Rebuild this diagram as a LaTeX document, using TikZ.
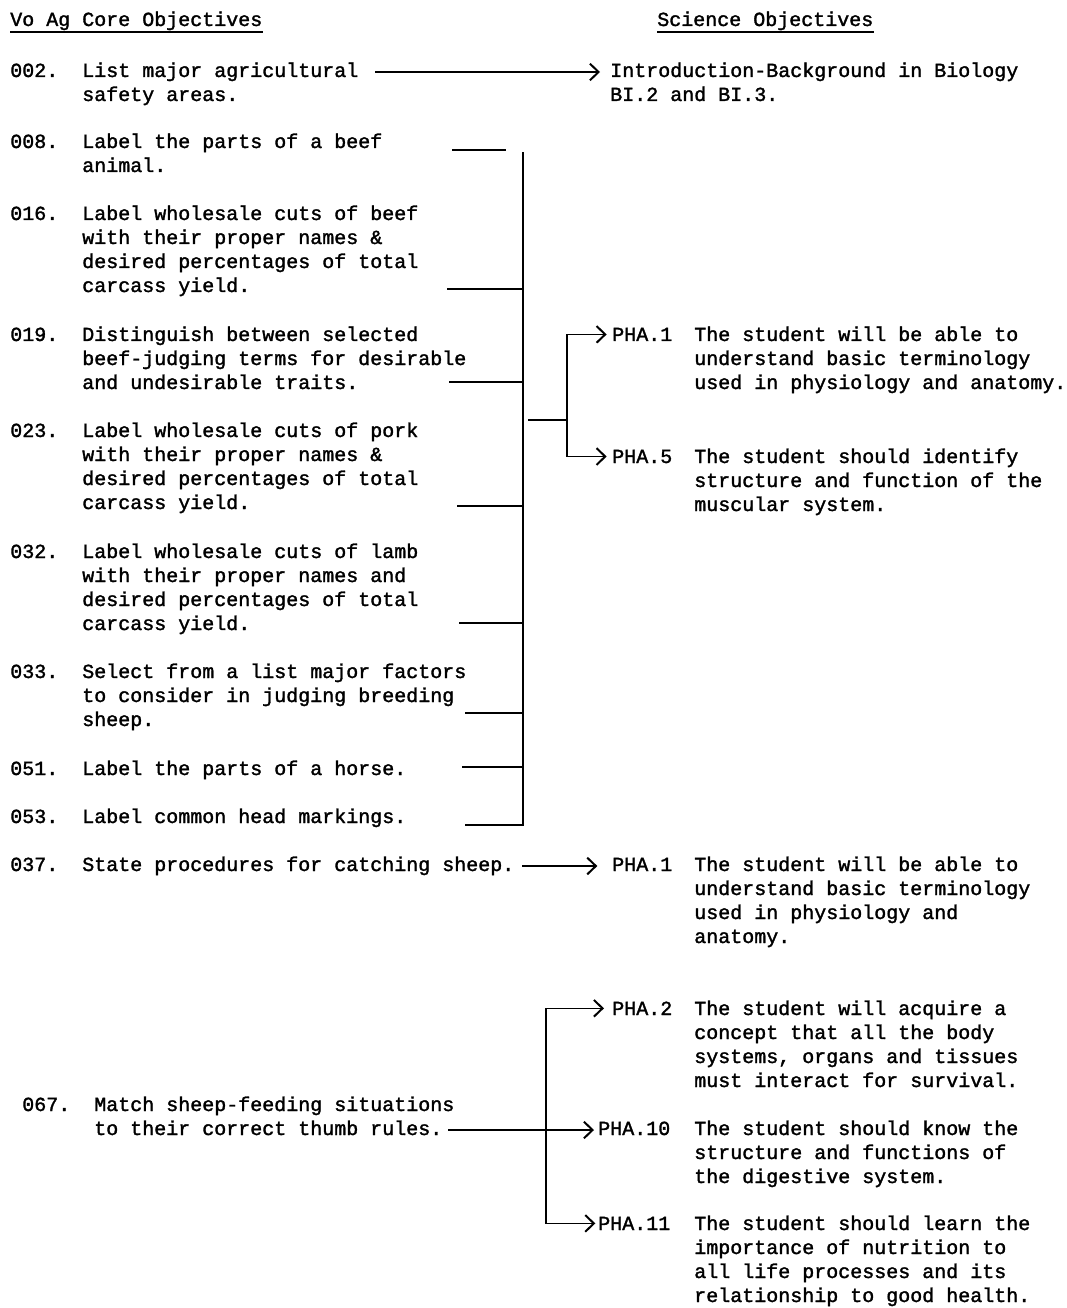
\documentclass[tikz,border=0pt]{standalone}
\usepackage{fontspec}
\setmainfont{Liberation Mono}[BoldFont={Liberation Mono},BoldFeatures={FakeBold=1.6}]
\usetikzlibrary{arrows.meta}
% several lines, anchored at the baseline of the first one
\newcommand\mlines[1]{\begin{tabular}[t]{@{}l@{}}#1\end{tabular}}
\begin{document}
\begin{tikzpicture}[x=0.75pt,y=-0.75pt,
  txt/.style={anchor=base west,inner sep=0pt,
              font=\fontsize{15}{18}\selectfont\bfseries},
  link/.style={line width=1.2pt},
  tip/.style={link,-{Straight Barb[length=6.5pt,width=12.5pt,line width=1.5pt]}},
  rail/.style={line width=1.8pt,line join=miter},
  uline/.style={line width=0.9pt}
]
\useasboundingbox (0,0) rectangle (1066,1308);

% column headings
\node[txt] (hleft)  at (10,26)  {Vo Ag Core Objectives};
\node[txt] (hright) at (657,26) {Science Objectives};
\draw[uline] ([yshift=-4.5pt]hleft.base west)  -- ([yshift=-4.5pt]hleft.base east);
\draw[uline] ([yshift=-4.5pt]hright.base west) -- ([yshift=-4.5pt]hright.base east);

% vocational agriculture objectives
\node[txt] (n002) at (10,77)  {002.};
\node[txt] (t002) at (82,77)  {\mlines{List major agricultural\\safety areas.}};
\node[txt] (n008) at (10,148) {008.};
\node[txt] (t008) at (82,148) {\mlines{Label the parts of a beef\\animal.}};
\node[txt] (n016) at (10,220) {016.};
\node[txt] (t016) at (82,220) {\mlines{Label wholesale cuts of beef\\with their proper names \&\\desired percentages of total\\carcass yield.}};
\node[txt] (n019) at (10,341) {019.};
\node[txt] (t019) at (82,341) {\mlines{Distinguish between selected\\beef-judging terms for desirable\\and undesirable traits.}};
\node[txt] (n023) at (10,437) {023.};
\node[txt] (t023) at (82,437) {\mlines{Label wholesale cuts of pork\\with their proper names \&\\desired percentages of total\\carcass yield.}};
\node[txt] (n032) at (10,558) {032.};
\node[txt] (t032) at (82,558) {\mlines{Label wholesale cuts of lamb\\with their proper names and\\desired percentages of total\\carcass yield.}};
\node[txt] (n033) at (10,678) {033.};
\node[txt] (t033) at (82,678) {\mlines{Select from a list major factors\\to consider in judging breeding\\sheep.}};
\node[txt] (n051) at (10,775) {051.};
\node[txt] (t051) at (82,775) {Label the parts of a horse.};
\node[txt] (n053) at (10,823) {053.};
\node[txt] (t053) at (82,823) {Label common head markings.};
\node[txt] (n037) at (10,871) {037.};
\node[txt] (t037) at (82,871) {State procedures for catching sheep.};
\node[txt] (n067) at (22,1111) {067.};
\node[txt] (t067) at (94,1111) {\mlines{Match sheep-feeding situations\\to their correct thumb rules.}};

% science objectives
\node[txt] (intro) at (610,77) {\mlines{Introduction-Background in Biology\\BI.2 and BI.3.}};
\node[txt] (pa)  at (612,341)  {PHA.1};
\node[txt] (da)  at (694,341)  {\mlines{The student will be able to\\understand basic terminology\\used in physiology and anatomy.}};
\node[txt] (pb)  at (612,463)  {PHA.5};
\node[txt] (db)  at (694,463)  {\mlines{The student should identify\\structure and function of the\\muscular system.}};
\node[txt] (pc)  at (612,871)  {PHA.1};
\node[txt] (dc)  at (694,871)  {\mlines{The student will be able to\\understand basic terminology\\used in physiology and\\anatomy.}};
\node[txt] (p2)  at (612,1015) {PHA.2};
\node[txt] (d2)  at (694,1015) {\mlines{The student will acquire a\\concept that all the body\\systems, organs and tissues\\must interact for survival.}};
\node[txt] (p10) at (598,1135) {PHA.10};
\node[txt] (d10) at (694,1135) {\mlines{The student should know the\\structure and functions of\\the digestive system.}};
\node[txt] (p11) at (598,1230) {PHA.11};
\node[txt] (d11) at (694,1230) {\mlines{The student should learn the\\importance of nutrition to\\all life processes and its\\relationship to good health.}};

% 002 -> introduction
\coordinate (c002) at (375,72);
\draw[tip] (c002) -- ([xshift=-7.5pt]c002 -| intro.west);

% bracket collecting the livestock objectives
\coordinate (rtop) at (523,152);
\coordinate (s008) at (452,150);
\coordinate (e008) at (506,150);
\coordinate (s016) at (447,289);
\coordinate (s019) at (449,382);
\coordinate (s023) at (457,506);
\coordinate (s032) at (459,623);
\coordinate (s033) at (465,713);
\coordinate (s051) at (462,767);
\coordinate (s053) at (465,825);
\draw[link] (s008) -- (e008);
\draw[rail] (s053) -| (rtop);
\foreach \s in {s016,s019,s023,s032,s033,s051}
  \draw[link] (\s) -- (\s -| rtop);

% fork to PHA.1 and PHA.5
\coordinate (mid)  at (528,420);
\coordinate (fork) at (567,420);
\draw[link] (mid) -- (fork);
\draw[tip] (fork) |- ([xshift=-4pt]pa.west);
\draw[tip] (fork) |- ([xshift=-4pt]pb.west);

% 037 -> PHA.1
\coordinate (c037) at (522,866);
\draw[tip] (c037) -- ([xshift=-11pt]c037 -| pc.west);

% 067 -> PHA.2, PHA.10, PHA.11
\coordinate (c067)  at (448,1130);
\coordinate (fork2) at (546,1130);
\draw[tip] (c067) -- ([xshift=-3pt]c067 -| p10.west);
\draw[tip] (fork2) |- ([xshift=-6pt]p2.west);
\draw[tip] (fork2) |- ([xshift=-2pt]p11.west);
\end{tikzpicture}
\end{document}
